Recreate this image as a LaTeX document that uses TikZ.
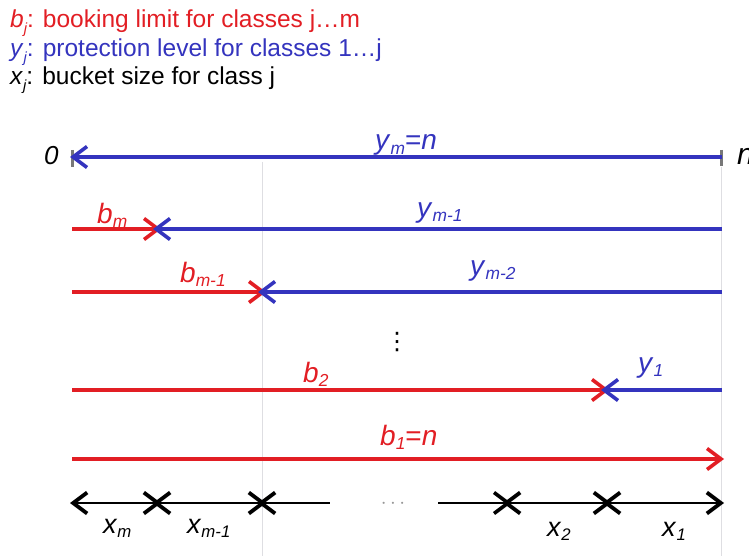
\documentclass[tikz,border=0pt]{standalone}
\usepackage{fontspec}
\usepackage{graphicx}
\setmainfont{Liberation Sans}
\newfontfamily\dejavu{DejaVu Sans}
\usetikzlibrary{arrows.meta}
\definecolor{rd}{RGB}{226,30,36}
\definecolor{bl}{RGB}{52,52,190}
\definecolor{tk}{RGB}{120,120,120}
\definecolor{lg}{RGB}{222,222,226}
\definecolor{dg}{RGB}{150,150,150}
\newcommand\sbx[1]{\raisebox{-0.16em}{\scalebox{0.62}{\itshape #1}}}
\newcommand\lsb[1]{\raisebox{-0.22em}{\scalebox{0.6}{\itshape #1}}}
\newcommand\vv[2]{\textit{#1}\sbx{#2}}
\newcommand\lv[2]{\textit{#1}\lsb{#2}}
\tikzset{
  x=1pt, y=-1pt,
  lab/.style={inner sep=0pt, anchor=base west, font=\fontsize{28}{30}\selectfont},
  leg/.style={inner sep=0pt, anchor=base west, font=\fontsize{24.5}{28}\selectfont},
  tipE/.style={-{Straight Barb[length=14pt,width=21pt,line width=3.6pt]}, shorten >=-4pt},
  tipS/.style={{Straight Barb[length=14pt,width=21pt,line width=3.8pt]}-, shorten <=-4pt},
  tipB/.style={{Straight Barb[length=14pt,width=21pt,line width=3.8pt]}-{Straight Barb[length=14pt,width=21pt,line width=3.8pt]}, shorten <=-4pt, shorten >=-4pt},
  redl/.style={rd, line width=3.3pt, tipE},
  blul/.style={bl, line width=3.2pt, tipE},
  blk/.style={black, line width=2.4pt},
  guide/.style={lg, line width=1pt},
  tick/.style={tk, line width=3pt}
}
\begin{document}
\begin{tikzpicture}
\useasboundingbox (0,0) rectangle (749,556);
% legend
\node[leg, rd] (L1) at (10,28) {\lv{b}{j}: booking limit for classes j…m};
\node[leg, bl] (L2) at (10,57) {\lv{y}{j}: protection level for classes 1…j};
\node[leg, black] (L3) at (10,85) {\lv{x}{j}: bucket size for class j};
% coordinates
\coordinate (z1) at (74,157); \coordinate (n1) at (722,157);
\coordinate (a2) at (72,229); \coordinate (m2) at (157,229); \coordinate (e2) at (722,229);
\coordinate (a3) at (72,292); \coordinate (m3) at (262,292); \coordinate (e3) at (722,292);
\coordinate (a4) at (72,390); \coordinate (m4) at (605,390); \coordinate (e4) at (722,390);
\coordinate (a5) at (72,459); \coordinate (e5) at (720,459);
\coordinate (p0) at (74,503); \coordinate (p1) at (157,503); \coordinate (p2) at (262,503);
\coordinate (p3) at (330,503); \coordinate (p4) at (438,503); \coordinate (p5) at (507,503);
\coordinate (p6) at (607,503); \coordinate (p7) at (720,503);
\coordinate (g1t) at (262,162); \coordinate (g1b) at (262,556);
\coordinate (g2t) at (721,167); \coordinate (g2b) at (721,556);
\coordinate (t1a) at (72,150); \coordinate (t1b) at (72,167);
\coordinate (t2a) at (721,150); \coordinate (t2b) at (721,166);
% guides
\draw[guide] (g1t) -- (g1b);
\draw[guide] (g2t) -- (g2b);
\draw[tick] (t1a) -- (t1b);
\draw[tick] (t2a) -- (t2b);
% row 1
\draw[blul] (n1) -- (z1);
\node[lab, font=\fontsize{26}{28}\selectfont\itshape] (zero) at (44,165) {0};
\node[lab, font=\fontsize{30}{32}\selectfont\itshape] (enn) at (737,165) {n};
\node[lab, bl] (ym) at (375,150) {\vv{y}{m}=\textit{n}};
% row 2
\draw[redl] (a2) -- (m2);
\draw[blul] (e2) -- (m2);
\node[lab, rd] (bm) at (97,223) {\vv{b}{m}};
\node[lab, bl] (ym1) at (417,217) {\vv{y}{m-1}};
% row 3
\draw[redl] (a3) -- (m3);
\draw[blul] (e3) -- (m3);
\node[lab, rd] (bm1) at (180,282) {\vv{b}{m-1}};
\node[lab, bl] (ym2) at (470,275) {\vv{y}{m-2}};
% vdots
\node[inner sep=0pt, font=\fontsize{24}{24}\dejavu] (vd) at (397,342) {⋮};
% row 4
\draw[redl] (a4) -- (m4);
\draw[blul] (e4) -- (m4);
\node[lab, rd] (b2) at (303,382) {\vv{b}{2}};
\node[lab, bl] (y1) at (638,372) {\vv{y}{1}};
% row 5
\draw[redl] (a5) -- (e5);
\node[lab, rd] (b1) at (380,445) {\vv{b}{1}=\textit{n}};
% row 6
\draw[blk, tipB] (p0) -- (p1);
\draw[blk, tipB] (p1) -- (p2);
\draw[blk, tipS] (p2) -- (p3);
\node[inner sep=0pt, anchor=base, dg, font=\fontsize{20}{20}\selectfont] (cd) at (393,508) {$\cdots$};
\draw[blk, tipE] (p4) -- (p5);
\draw[blk, tipB] (p5) -- (p6);
\draw[blk, tipB] (p6) -- (p7);
\node[lab, font=\fontsize{27}{28}\selectfont] (xm) at (103,533) {\vv{x}{m}};
\node[lab, font=\fontsize{27}{28}\selectfont] (xm1) at (187,533) {\vv{x}{m-1}};
\node[lab, font=\fontsize{27}{28}\selectfont] (x2) at (547,536) {\vv{x}{2}};
\node[lab, font=\fontsize{27}{28}\selectfont] (x1) at (662,536) {\vv{x}{1}};
\end{tikzpicture}
\end{document}
